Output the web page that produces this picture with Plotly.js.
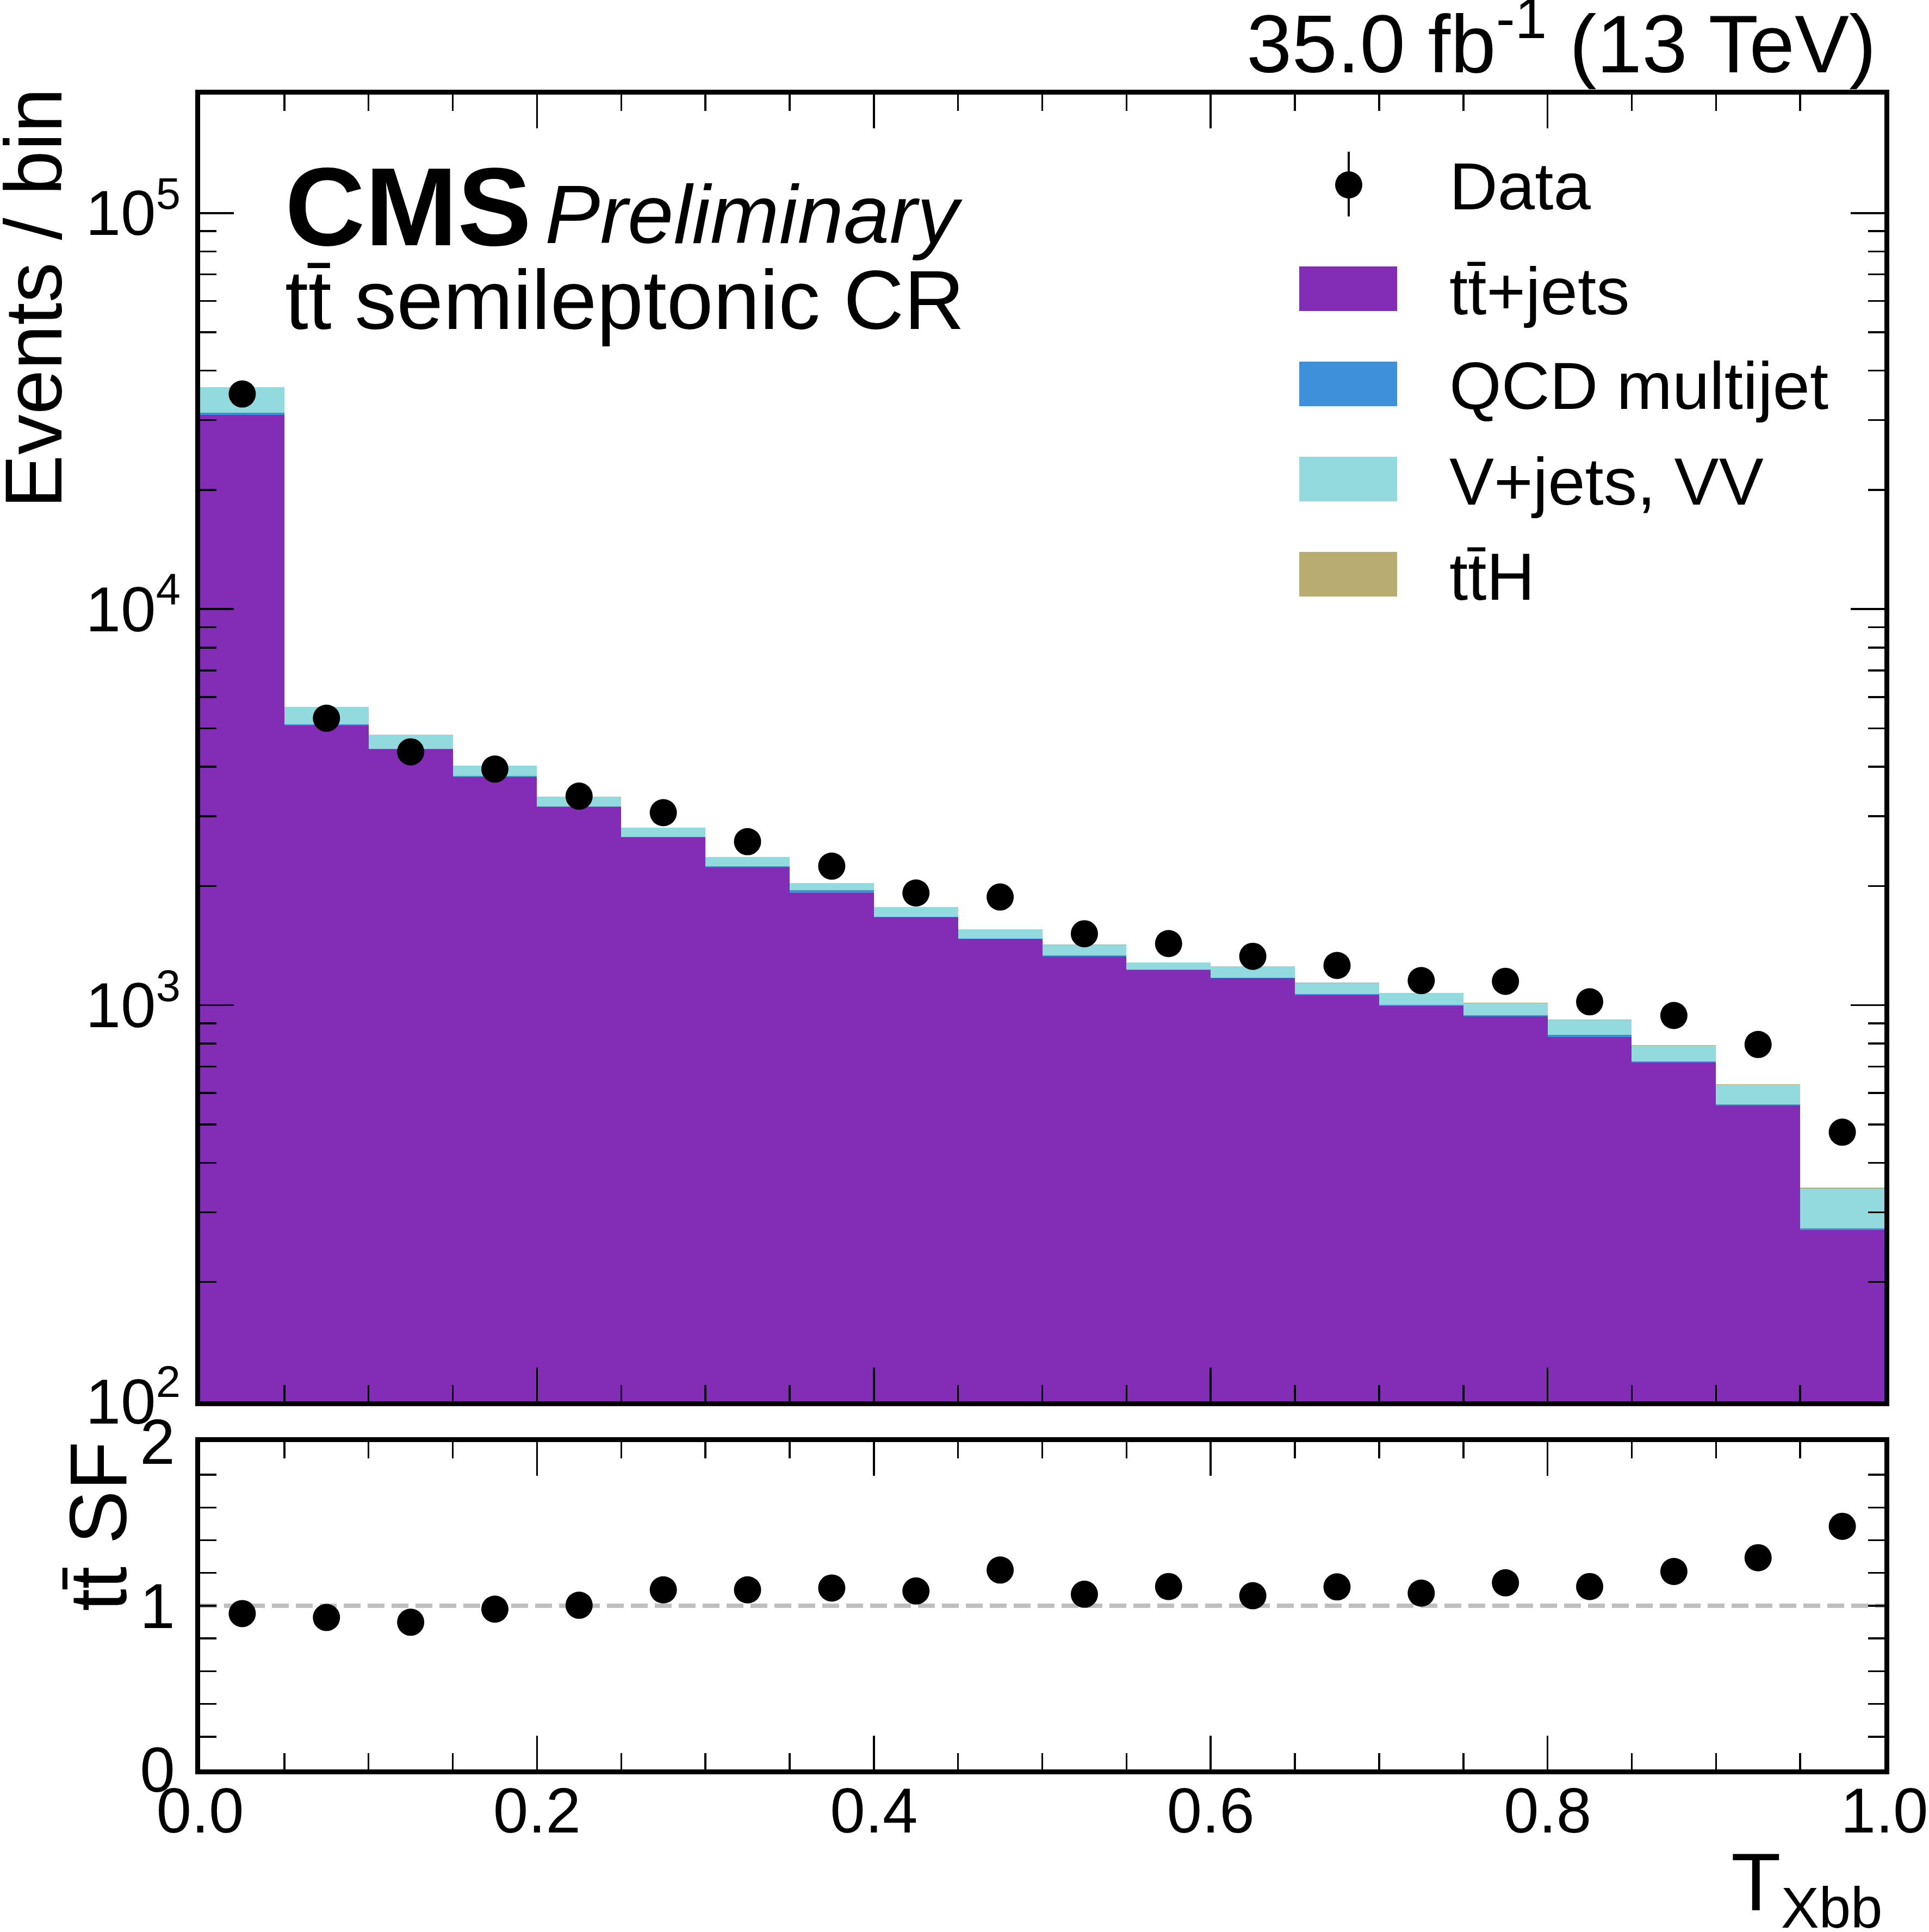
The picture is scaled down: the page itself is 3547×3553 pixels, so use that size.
<!DOCTYPE html>
<html>
<head>
<meta charset="utf-8">
<script src="https://cdn.plot.ly/plotly-3.0.1.min.js"></script>
<style>
  html, body { margin: 0; padding: 0; background: #fff; }
  #chart { width: 3547px; height: 3553px; }
</style>
</head>
<body>
<div id="chart"></div>
<script>
// bins of T_Xbb, width 0.05
var binCenters = [0.025, 0.075, 0.125, 0.175, 0.225, 0.275, 0.325, 0.375, 0.425, 0.475,
                  0.525, 0.575, 0.625, 0.675, 0.725, 0.775, 0.825, 0.875, 0.925, 0.975];

// stacked backgrounds, events / bin
var ttJets = [30890, 5086, 4427, 3773, 3164, 2649, 2230, 1924, 1666, 1467,
              1328, 1226, 1168, 1062, 997, 938, 832, 717, 558, 271];
var qcd    = [390, 27, 20, 18, 15, 12, 10, 29, 8, 8,
              7, 6, 6, 5, 5, 5, 9, 4, 4, 2];
var vJets  = [5095, 557, 370, 232, 183, 145, 125, 82, 95, 80,
              85, 50, 79, 70, 71, 70, 76, 70, 68, 71];
var ttH    = [15, 3, 3, 3, 3, 2, 2, 2, 2, 2,
              2, 2, 2, 2, 2, 2, 2, 2, 2, 2];

var dataCounts = [34930, 5304, 4362, 3947, 3372, 3063, 2588, 2245, 1920, 1876,
                  1515, 1431, 1329, 1260, 1154, 1149, 1020, 942, 796, 478];

// lower panel: tt scale factor
var ttSF = [0.952, 0.928, 0.899, 0.979, 1.003, 1.097, 1.097, 1.108, 1.090, 1.218,
            1.070, 1.117, 1.061, 1.115, 1.077, 1.140, 1.117, 1.209, 1.293, 1.485];

var logTickVals = [100, 1000, 10000, 100000];
var logTickText = ["10<sup>2</sup>", "10<sup>3</sup>", "10<sup>4</sup>", "10<sup>5</sup>"];
var logMinorVals = [200, 300, 400, 500, 600, 700, 800, 900,
                    2000, 3000, 4000, 5000, 6000, 7000, 8000, 9000,
                    20000, 30000, 40000, 50000, 60000, 70000, 80000, 90000, 200000];
var xTickVals = [0, 0.2, 0.4, 0.6, 0.8, 1.0];
var xTickText = ["0.0", "0.2", "0.4", "0.6", "0.8", "1.0"];
var xMinorVals = [0.05, 0.1, 0.15, 0.25, 0.3, 0.35, 0.45, 0.5, 0.55, 0.65, 0.7, 0.75, 0.85, 0.9, 0.95];
var sfTickVals = [0, 1, 2];
var sfMinorVals = [0.2, 0.4, 0.6, 0.8, 1.2, 1.4, 1.6, 1.8];

var legendLabels = ["tt\u0304+jets", "QCD multijet", "V+jets, VV", "tt\u0304H"];
var legendColors = ["#832db6", "#3f90da", "#92dadd", "#b9ac70"];

var FONT = "Liberation Sans, Arial, sans-serif";

// pixel -> paper helpers for the text placement
var L = 368, R = 82, T = 174, B = 299, W = 3547, H = 3553;
var PW = W - L - R, PH = H - T - B;
function px(x) { return (x - L) / PW; }
function py(y) { return (H - B - y) / PH; }

function bar(name, vals, color) {
  return {
    type: "bar", name: name, x: binCenters, y: vals, width: 0.05,
    marker: { color: color, line: { width: 0 } },
    xaxis: "x", yaxis: "y", hoverinfo: "skip"
  };
}

var traces = [
  bar("tt+jets", ttJets, legendColors[0]),
  bar("QCD multijet", qcd, legendColors[1]),
  bar("V+jets, VV", vJets, legendColors[2]),
  bar("ttH", ttH, legendColors[3]),
  {
    type: "scatter", mode: "markers", name: "Data", x: binCenters, y: dataCounts,
    marker: { color: "black", size: 50 }, xaxis: "x", yaxis: "y", cliponaxis: false
  },
  {
    type: "scatter", mode: "markers", name: "SF", x: binCenters, y: ttSF,
    marker: { color: "black", size: 50 }, xaxis: "x2", yaxis: "y2"
  }
];

var axisCommon = {
  showline: true, linewidth: 9, linecolor: "black", mirror: "allticks",
  ticks: "inside", ticklen: 62, tickwidth: 3.5, tickcolor: "black",
  showgrid: false, zeroline: false,
  tickfont: { family: FONT, size: 116, color: "black" }
};
function ax(extra) { return Object.assign({}, axisCommon, extra); }

var minorX = { tickmode: "array", tickvals: xMinorVals, ticks: "inside", ticklen: 30, tickwidth: 3.5, tickcolor: "black" };

var layout = {
  width: W, height: H,
  margin: { l: L, r: R, t: T, b: B, pad: 0 },
  paper_bgcolor: "white", plot_bgcolor: "white",
  barmode: "stack", bargap: 0, showlegend: false,
  font: { family: FONT, color: "black" },
  xaxis: ax({ domain: [0, 1], range: [0, 1], anchor: "y", tickmode: "array", tickvals: xTickVals,
              showticklabels: false, minor: minorX }),
  yaxis: ax({ type: "log", domain: [0.2198, 1], range: [2, 5.299], anchor: "x",
              tickmode: "array", tickvals: logTickVals, ticktext: logTickText, ticklabelstandoff: 4,
              minor: { tickmode: "array", tickvals: logMinorVals, ticks: "inside", ticklen: 30, tickwidth: 3.5, tickcolor: "black" } }),
  xaxis2: ax({ domain: [0, 1], range: [0, 1], anchor: "y2", tickmode: "array", tickvals: xTickVals,
               ticktext: xTickText, ticklabelstandoff: -32, minor: minorX }),
  yaxis2: ax({ domain: [0, 0.1955], range: [0, 2], anchor: "x2", tickmode: "array", tickvals: sfTickVals,
               ticklen: 30, ticklabelstandoff: 14,
               minor: { tickmode: "array", tickvals: sfMinorVals, ticks: "inside", ticklen: 30, tickwidth: 3.5, tickcolor: "black" } }),
  shapes: [
    { type: "line", xref: "x2 domain", yref: "y2", x0: 0, x1: 1, y0: 1, y1: 1, layer: "below",
      line: { color: "#bfbfbf", width: 8, dash: "31px,13px" } }
  ],
  annotations: [
    { text: "35.0 fb<sup>-1</sup> (13 TeV)", xref: "paper", yref: "paper", x: px(3452), y: py(70),
      xanchor: "right", yanchor: "middle", showarrow: false, font: { size: 150 } },
    { text: "<b>CMS</b>", xref: "paper", yref: "paper", x: px(522), y: py(380),
      xanchor: "left", yanchor: "middle", showarrow: false, font: { size: 204 } },
    { text: "<i>Preliminary</i>", xref: "paper", yref: "paper", x: px(1000), y: py(394),
      xanchor: "left", yanchor: "middle", showarrow: false, font: { size: 152 } },
    { text: "tt\u0304 semileptonic CR", xref: "paper", yref: "paper", x: px(522), y: py(552),
      xanchor: "left", yanchor: "middle", showarrow: false, font: { size: 154 } },
    { text: "Events / bin", xref: "paper", yref: "paper", x: px(62), y: py(549), textangle: -90,
      xanchor: "center", yanchor: "middle", showarrow: false, font: { size: 148 } },
    { text: "tt\u0304 SF", xref: "paper", yref: "paper", x: px(180), y: py(2807), textangle: -90,
      xanchor: "center", yanchor: "middle", showarrow: false, font: { size: 148 } },
    { text: "T<sub>Xbb</sub>", xref: "paper", yref: "paper", x: px(3463), y: py(3375),
      xanchor: "right", yanchor: "top", showarrow: false, font: { size: 150 } },
    { text: "Data", xref: "paper", yref: "paper", x: px(2663), y: py(343),
      xanchor: "left", yanchor: "middle", showarrow: false, font: { size: 123 } }
  ]
};

// legend: data marker with its error bar, then the stacked-sample patches
var legX = 2480, legY = 340, legR = 25;
layout.shapes.push({ type: "line", xref: "paper", yref: "paper", x0: px(legX), x1: px(legX),
                     y0: py(279), y1: py(398), line: { color: "black", width: 4 } });
layout.shapes.push({ type: "circle", xref: "paper", yref: "paper",
                     x0: px(legX - legR), x1: px(legX + legR), y0: py(legY + legR), y1: py(legY - legR),
                     fillcolor: "black", line: { width: 0 } });
legendLabels.forEach(function (lab, i) {
  var top = 490 + i * 175;
  layout.shapes.push({ type: "rect", xref: "paper", yref: "paper", x0: px(2389), x1: px(2569),
                       y0: py(top + 82), y1: py(top), fillcolor: legendColors[i], line: { width: 0 } });
  layout.annotations.push({ text: lab, xref: "paper", yref: "paper", x: px(2663), y: py(top + 45),
                            xanchor: "left", yanchor: "middle", showarrow: false, font: { size: 123 } });
});

Plotly.newPlot("chart", traces, layout, { displayModeBar: false, staticPlot: true });
</script>
</body>
</html>
